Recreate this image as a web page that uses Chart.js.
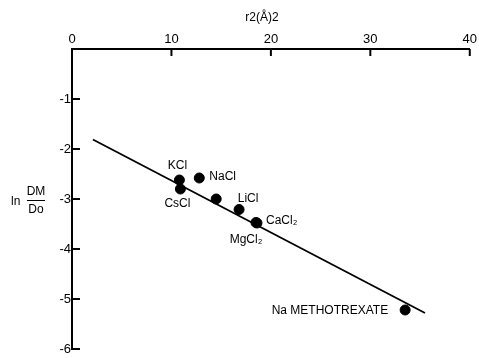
<!DOCTYPE html>
<html>
<head>
<meta charset="utf-8">
<script src="https://cdn.jsdelivr.net/npm/chart.js@4/dist/chart.umd.min.js"></script>
<style>
  html, body { margin: 0; padding: 0; background: #fff; }
</style>
</head>
<body>
<canvas id="chart" width="479" height="358"></canvas>
<script>
// salts and their measured points
const salts = ["KCl", "CsCl", "NaCl", "", "LiCl", "CaCl₂", "MgCl₂", "Na METHOTREXATE"];
const r2 = [10.8, 10.9, 12.8, 14.5, 16.8, 18.6, 18.5, 33.5];
const lnRatio = [-2.62, -2.80, -2.58, -3.00, -3.21, -3.48, -3.47, -5.22];

// fitted straight line end points
const fitX = [2.1, 35.5];
const fitY = [-1.81, -5.28];

const xTicks = [0, 10, 20, 30, 40];
const yTicks = [0, -1, -2, -3, -4, -5, -6];

const FONT = "'Liberation Sans', Arial, sans-serif";

// where each label sits around its dot: dx, dy, align
const labelPlace = {
  "KCl": [-2, -14, "center"],
  "CsCl": [-3, 15, "center"],
  "NaCl": [10, -1, "left"],
  "LiCl": [9, -11, "center"],
  "CaCl₂": [9, -2, "left"],
  "MgCl₂": [-10, 17, "center"],
  "Na METHOTREXATE": [-17, 1, "right"]
};

const pointLabels = {
  id: "pointLabels",
  afterDatasetsDraw(chart) {
    const ctx = chart.ctx;
    const pts = chart.getDatasetMeta(1).data;
    ctx.save();
    ctx.fillStyle = "#000";
    ctx.font = "12px " + FONT;
    ctx.textBaseline = "middle";
    pts.forEach((p, i) => {
      const name = salts[i];
      if (!name) return;
      const [dx, dy, align] = labelPlace[name];
      ctx.textAlign = align;
      ctx.fillText(name, p.x + dx, p.y + dy);
    });
    ctx.restore();
  }
};

// short tick marks pointing into the plot, plus the axis titles
const axisExtras = {
  id: "axisExtras",
  afterDraw(chart) {
    const { ctx, chartArea, scales } = chart;
    ctx.save();
    ctx.strokeStyle = "#000";
    ctx.lineWidth = 2;
    ctx.beginPath();
    scales.x.ticks.forEach(t => {
      const px = scales.x.getPixelForValue(t.value);
      ctx.moveTo(px, chartArea.top);
      ctx.lineTo(px, chartArea.top + 7);
    });
    scales.y.ticks.forEach(t => {
      const py = scales.y.getPixelForValue(t.value);
      ctx.moveTo(chartArea.left, py);
      ctx.lineTo(chartArea.left + 8, py);
    });
    ctx.stroke();

    ctx.fillStyle = "#000";
    ctx.font = "12px " + FONT;
    ctx.textBaseline = "middle";
    ctx.textAlign = "center";
    ctx.fillText("r2(Å)2", 262, 18);

    // ln DM/Do written as a fraction
    ctx.textAlign = "left";
    ctx.fillText("ln", 11, 202);
    ctx.textAlign = "center";
    ctx.fillText("DM", 36, 192);
    ctx.fillText("Do", 36, 210);
    ctx.lineWidth = 1;
    ctx.beginPath();
    ctx.moveTo(27, 200.5);
    ctx.lineTo(45, 200.5);
    ctx.stroke();
    ctx.restore();
  }
};

new Chart(document.getElementById("chart").getContext("2d"), {
  type: "scatter",
  data: {
    datasets: [
      {
        type: "line",
        data: fitX.map((x, i) => ({ x: x, y: fitY[i] })),
        borderColor: "#000",
        borderWidth: 1.8,
        pointRadius: 0,
        fill: false
      },
      {
        data: r2.map((x, i) => ({ x: x, y: lnRatio[i] })),
        backgroundColor: "#000",
        borderColor: "#000",
        pointRadius: 5,
        pointHoverRadius: 5
      }
    ]
  },
  options: {
    responsive: false,
    animation: false,
    events: [],
    layout: { padding: { left: 0, right: 9, top: 0, bottom: 9 } },
    plugins: {
      legend: { display: false },
      tooltip: { enabled: false }
    },
    scales: {
      x: {
        type: "linear",
        position: "top",
        min: 0,
        max: 40,
        afterBuildTicks: s => { s.ticks = xTicks.map(v => ({ value: v })); },
        afterFit: s => { s.height = 49; },
        grid: { display: false, drawTicks: false },
        border: { display: true, color: "#000", width: 2 },
        ticks: {
          color: "#000",
          padding: 2,
          maxRotation: 0,
          font: { family: FONT, size: 13 }
        }
      },
      y: {
        type: "linear",
        position: "left",
        min: -6,
        max: 0,
        afterBuildTicks: s => { s.ticks = yTicks.map(v => ({ value: v })); },
        afterFit: s => { s.width = 72; },
        grid: { display: false, drawTicks: false },
        border: { display: true, color: "#000", width: 2 },
        ticks: {
          color: "#000",
          padding: 1,
          font: { family: FONT, size: 13 },
          callback: v => (v === 0 ? "" : String(v))
        }
      }
    }
  },
  plugins: [pointLabels, axisExtras]
});
</script>
</body>
</html>
